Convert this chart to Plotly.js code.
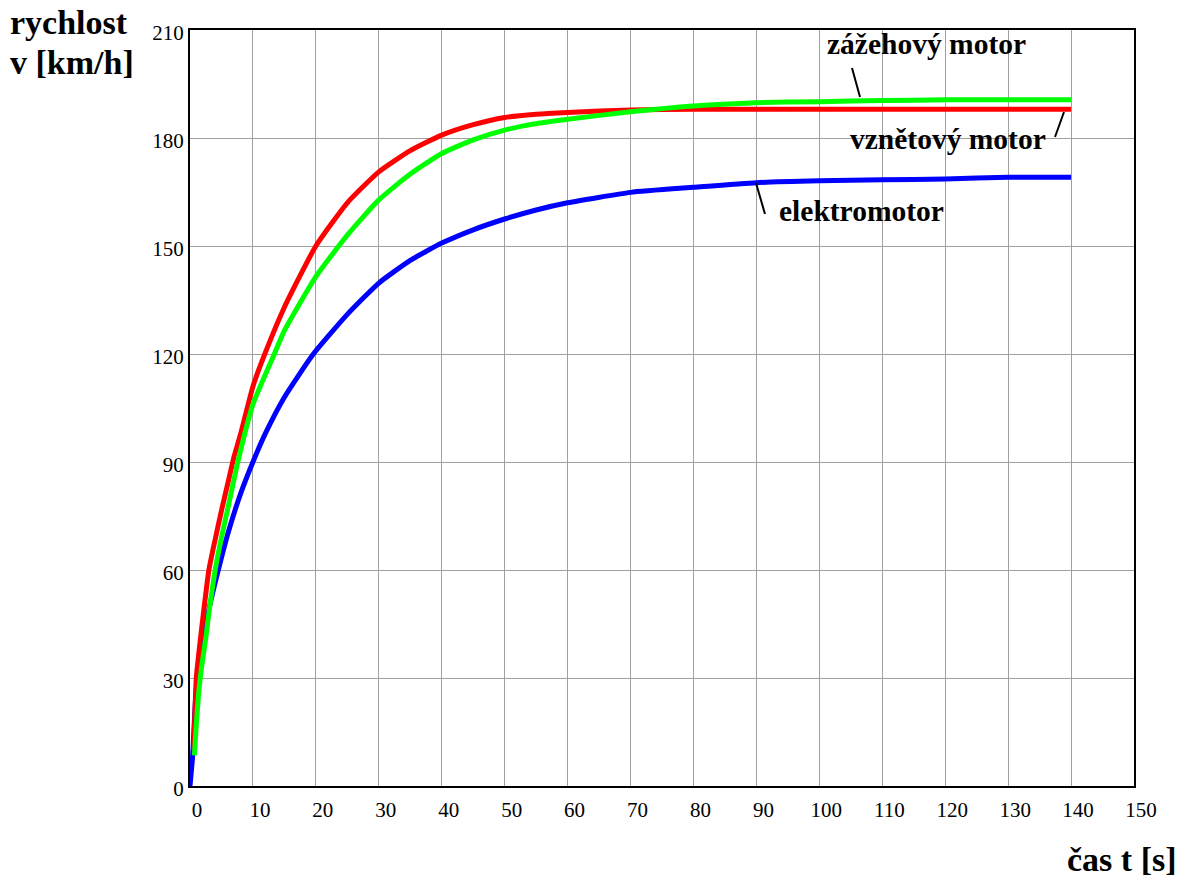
<!DOCTYPE html>
<html>
<head>
<meta charset="utf-8">
<script src="https://cdn.plot.ly/plotly-3.0.1.min.js"></script>
<style>
html,body{margin:0;padding:0;background:#fff;}
#chart{width:1185px;height:880px;}
</style>
</head>
<body>
<div id="chart"></div>
<script>
// --- data ---
const tVzn = [0.6, 1, 1.6, 2, 3, 4, 5, 6, 7, 8, 10, 12, 15, 20, 25, 30, 35, 40, 45, 50, 55, 60, 70, 80, 90, 100, 110, 120, 130, 140];
const vVzn = [10, 30, 40, 46, 60, 68.5, 76.5, 84, 91.5, 97.5, 111, 120.5, 133, 150, 162, 170.6, 176.5, 180.8, 183.7, 185.7, 186.6, 187.1, 187.8, 188, 188, 188, 188, 188, 188, 188];

const tZaz = [0.7, 1, 1.5, 2, 2.5, 3, 4, 5, 6, 7.6, 10, 13.4, 15, 20, 25, 30, 35, 40, 45, 50, 55, 60, 70, 80, 90, 100, 110, 120, 130, 140];
const vZaz = [8.5, 17, 28, 35, 41, 48, 60, 69, 77, 90, 106, 120, 126.5, 141.5, 153, 162.8, 170, 175.7, 179.5, 182.2, 184, 185.2, 187.3, 188.9, 189.8, 190.1, 190.4, 190.6, 190.6, 190.6];

const tEl = [0, 0.4, 1, 2, 3, 4.5, 6, 8, 10, 12, 15, 19.6, 25, 30, 35, 40, 45, 50, 55, 60, 70, 80, 90, 100, 110, 120, 130, 140];
const vEl = [0, 8, 27, 39, 49, 60, 70, 81, 90, 98, 108, 120, 131, 139.7, 146, 150.8, 154.5, 157.5, 160, 162, 164.9, 166.3, 167.6, 168.1, 168.4, 168.6, 169.1, 169.1];

const seriesNames = ["elektromotor", "vznětový motor", "zážehový motor"];
const xTickVals = [0,10,20,30,40,50,60,70,80,90,100,110,120,130,140,150];
const yTickVals = [0,30,60,90,120,150,180,210];
const yTitleLines = ["rychlost", "v [km/h]"];
const xTitle = "čas t [s]";

const fontFam = "Liberation Serif";

const traces = [
  {x: tEl, y: vEl, name: seriesNames[0], mode: "lines", line: {color: "#0000ff", width: 5, shape: "spline", smoothing: 0.5}},
  {x: tVzn, y: vVzn, name: seriesNames[1], mode: "lines", line: {color: "#ff0000", width: 5, shape: "spline", smoothing: 0.5}},
  {x: tZaz, y: vZaz, name: seriesNames[2], mode: "lines", line: {color: "#00ff00", width: 5, shape: "spline", smoothing: 0.5}}
];

function px(x){ return (x - 190) / 944; }
function py(y){ return (786 - y) / 756; }

const layout = {
  width: 1185, height: 880,
  margin: {l: 190, r: 51, t: 30, b: 94},
  paper_bgcolor: "#fff", plot_bgcolor: "#fff",
  showlegend: false,
  font: {family: fontFam, color: "#000", size: 21},
  xaxis: {
    range: [0, 150], tickvals: xTickVals, ticktext: xTickVals.map(String),
    showgrid: true, gridcolor: "#a0a0a0", gridwidth: 1,
    showline: true, linecolor: "#000", linewidth: 2, mirror: true,
    zeroline: false, ticks: "", ticklabelshift: 7, ticklabelstandoff: 4,
    tickfont: {family: fontFam, size: 21, color: "#000"}
  },
  yaxis: {
    range: [0, 210], tickvals: yTickVals, ticktext: yTickVals.map(String),
    showgrid: true, gridcolor: "#a0a0a0", gridwidth: 1,
    showline: true, linecolor: "#000", linewidth: 2, mirror: true,
    zeroline: false, ticks: "", ticklabelshift: 3, ticklabelstandoff: 0,
    tickfont: {family: fontFam, size: 21, color: "#000"}
  },
  annotations: [
    {xref: "paper", yref: "paper", x: px(8), y: py(23), xanchor: "left", yanchor: "middle", align: "left",
     text: "<b>" + yTitleLines[0] + "</b>", showarrow: false, font: {family: fontFam, size: 34, color: "#000"}},
    {xref: "paper", yref: "paper", x: px(8), y: py(62), xanchor: "left", yanchor: "middle", align: "left",
     text: "<b>" + yTitleLines[1] + "</b>", showarrow: false, font: {family: fontFam, size: 34, color: "#000"}},
    {xref: "paper", yref: "paper", x: px(1179), y: py(880), xanchor: "right", yanchor: "bottom",
     text: "<b>" + xTitle + "</b>", showarrow: false, font: {family: fontFam, size: 34, color: "#000"}},
    {xref: "paper", yref: "paper", x: px(926), y: py(44), xanchor: "center", yanchor: "middle",
     text: "<b>" + seriesNames[2] + "</b>", showarrow: false, font: {family: fontFam, size: 29.5, color: "#000"}},
    {xref: "paper", yref: "paper", x: px(948), y: py(139), xanchor: "center", yanchor: "middle",
     text: "<b>" + seriesNames[1] + "</b>", showarrow: false, font: {family: fontFam, size: 29.5, color: "#000"}},
    {xref: "paper", yref: "paper", x: px(861), y: py(211), xanchor: "center", yanchor: "middle",
     text: "<b>" + seriesNames[0] + "</b>", showarrow: false, font: {family: fontFam, size: 29.5, color: "#000"}}
  ],
  shapes: [
    {type: "line", xref: "paper", yref: "paper", x0: px(852), y0: py(68), x1: px(860), y1: py(97), line: {color: "#000", width: 2}},
    {type: "line", xref: "paper", yref: "paper", x0: px(1064), y0: py(112), x1: px(1055), y1: py(137), line: {color: "#000", width: 2}},
    {type: "line", xref: "paper", yref: "paper", x0: px(756), y0: py(183), x1: px(765), y1: py(214), line: {color: "#000", width: 2}}
  ]
};

Plotly.newPlot("chart", traces, layout, {displayModeBar: false, staticPlot: true});
</script>
</body>
</html>
